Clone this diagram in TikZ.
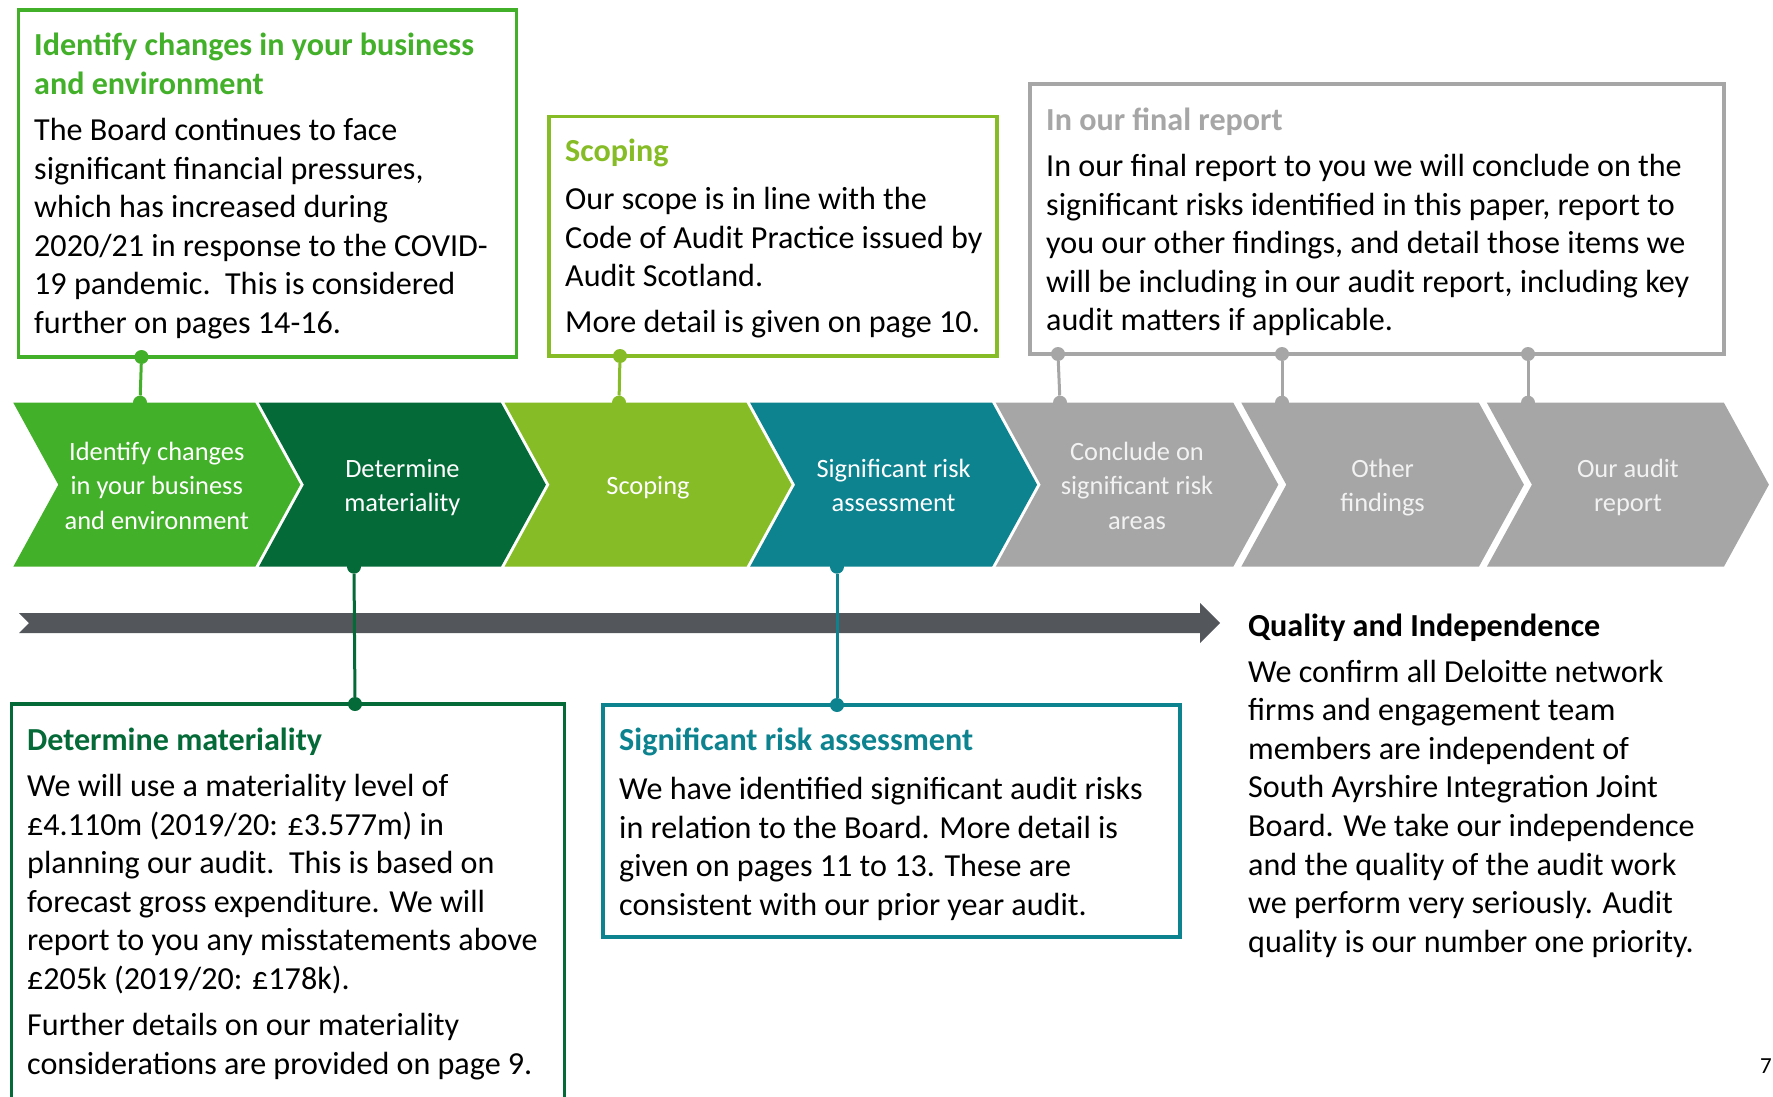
\documentclass[tikz,border=0pt]{standalone}
\usepackage{fontspec}
\setmainfont{Carlito}
\usetikzlibrary{fit}
\definecolor{gA}{HTML}{43B02A}
\definecolor{gB}{HTML}{046A38}
\definecolor{gC}{HTML}{86BC25}
\definecolor{tl}{HTML}{0D8390}
\definecolor{gy}{HTML}{A6A6A6}
\definecolor{ar}{HTML}{53565A}
\definecolor{lt}{HTML}{F2F2F2}
\newcommand{\chevshape}[3]{\fill[#3] (#1,402.7) -- ++(#2,0) -- ++(45,82) -- ++(-45,82) -- ++(-#2,0) -- ++(45,-82) -- cycle;}
\newcommand{\lines}[1]{\parbox[t]{700pt}{\raggedright #1}}
\newcommand{\clines}[1]{\parbox[t]{240pt}{\centering #1}}
\begin{document}
\begin{tikzpicture}[x=1pt,y=-1pt,
  bodytxt/.style={anchor=base west, inner sep=0pt, font=\fontsize{32.1}{38.6}\selectfont, text=black},
  titletxt/.style={anchor=base west, inner sep=0pt, font=\fontsize{32.1}{38.6}\selectfont\bfseries},
  chevtxt/.style={anchor=base, inner sep=0pt, font=\fontsize{26.4}{34.7}\selectfont, text=white},
  joindot/.style={circle, fill, inner sep=0pt, minimum size=14pt},
  conn/.style={line width=3pt},
  infobox/.style={line width=3.2pt, inner sep=0pt, fill=white}]
\useasboundingbox (0,0) rectangle (1773,1097);

% timeline arrow
\fill[ar] (19,613) -- (1200,613) -- (1200,603) -- (1220,623) -- (1200,643) -- (1200,633) -- (19,633) -- (29,623) -- cycle;

% connector dots at chevrons
\node[joindot, fill=gA] (c1) at (140,402.7) {};
\node[joindot, fill=gC] (c3) at (619,402.7) {};
\node[joindot, fill=gy] (c5) at (1060,402.7) {};
\node[joindot, fill=gy] (c6) at (1282,402.7) {};
\node[joindot, fill=gy] (c7) at (1528,402.7) {};
\node[joindot, fill=gB] (c2) at (354,566.7) {};
\node[joindot, fill=tl] (c4) at (837,566.7) {};

% boxes
\node[infobox, draw=gA, fit={(18.5,10) (516.5,357)}] (box1) {};
\node[infobox, draw=gC, fit={(549,116.5) (997,356)}] (box3) {};
\node[infobox, draw=gy, fit={(1030,84) (1724,354)}] (box5) {};
\node[infobox, draw=gB, fit={(11.5,704) (564.5,1130)}] (box2) {};
\node[infobox, draw=tl, fit={(603,705) (1180,937)}] (box4) {};

% dots on boxes
\node[joindot, fill=gA] (b1) at (141.5,357) {};
\node[joindot, fill=gC] (b3) at (620,356) {};
\node[joindot, fill=gy] (b5) at (1058,354) {};
\node[joindot, fill=gy] (b6) at (1282,354) {};
\node[joindot, fill=gy] (b7) at (1528,354) {};
\node[joindot, fill=gB] (b2) at (355,704) {};
\node[joindot, fill=tl] (b4) at (837,705) {};

% connectors
\draw[conn, gA] (b1) -- (c1);
\draw[conn, gC] (b3) -- (c3);
\draw[conn, gy] (b5) -- (c5);
\draw[conn, gy] (b6) -- (c6);
\draw[conn, gy] (b7) -- (c7);
\draw[conn, gB] (c2) -- (b2);
\draw[conn, tl] (c4) -- (b4);

% chevrons (cover half of the chevron dots)
\chevshape{13.3}{242}{gA}
\chevshape{258.9}{242}{gB}
\chevshape{504.5}{242}{gC}
\chevshape{750.1}{242}{tl}
\chevshape{995.7}{237.6}{gy}
\chevshape{1241.3}{237.6}{gy}
\chevshape{1486.9}{237}{gy}

% chevron labels
\node[chevtxt] (t1) at (156.8,460) {\clines{Identify changes\\in your business\\and environment}};
\node[chevtxt] (t2) at (402.4,477) {\clines{Determine\\materiality}};
\node[chevtxt] (t3) at (648,494) {\clines{Scoping}};
\node[chevtxt] (t4) at (893.6,477) {\clines{Significant risk\\assessment}};
\node[chevtxt, text=lt] (t5) at (1137,460) {\clines{Conclude on\\significant risk\\areas}};
\node[chevtxt, text=lt] (t6) at (1382.6,477) {\clines{Other\\findings}};
\node[chevtxt, text=lt] (t7) at (1627.9,477) {\clines{Our audit\\report}};

% box 1 text
\node[titletxt, text=gA] (h1) at (34,55.5) {\lines{Identify changes in your business\\and environment}};
\node[bodytxt] (p1) at (34,140.5) {\lines{The Board continues to face\\significant financial pressures,\\which has increased during\\2020/21 in response to the COVID-\\19 pandemic.\ \ This is considered\\further on pages 14-16.}};

% scoping text
\node[titletxt, text=gC] (h3) at (565,161.5) {\lines{Scoping}};
\node[bodytxt] (p3) at (565,209.5) {\lines{Our scope is in line with the\\Code of Audit Practice issued by\\Audit Scotland.}};
\node[bodytxt] (q3) at (565,332.5) {\lines{More detail is given on page 10.}};

% final report text
\node[titletxt, text=gy] (h5) at (1046,130.5) {\lines{In our final report}};
\node[bodytxt] (p5) at (1046,176.5) {\lines{In our final report to you we will conclude on the\\significant risks identified in this paper, report to\\you our other findings, and detail those items we\\will be including in our audit report, including key\\audit matters if applicable.}};

% determine materiality text
\node[titletxt, text=gB] (h2) at (27,750.5) {\lines{Determine materiality}};
\node[bodytxt] (p2) at (27,796.5) {\lines{We will use a materiality level of\\£4.110m (2019/20: £3.577m) in\\planning our audit.\ \ This is based on\\forecast gross expenditure. We will\\report to you any misstatements above\\£205k (2019/20: £178k).}};
\node[bodytxt] (q2) at (27,1035.5) {\lines{Further details on our materiality\\considerations are provided on page 9.}};

% significant risk text
\node[titletxt, text=tl] (h4) at (619,750.5) {\lines{Significant risk assessment}};
\node[bodytxt] (p4) at (619,799.5) {\lines{We have identified significant audit risks\\in relation to the Board. More detail is\\given on pages 11 to 13. These are\\consistent with our prior year audit.}};

% quality and independence
\node[titletxt, text=black] (hq) at (1248,636) {\lines{Quality and Independence}};
\node[bodytxt] (pq) at (1248,682) {\lines{We confirm all Deloitte network\\firms and engagement team\\members are independent of\\South Ayrshire Integration Joint\\Board. We take our independence\\and the quality of the audit work\\we perform very seriously. Audit\\quality is our number one priority.}};

% page number
\node[anchor=base east, inner sep=0pt, font=\fontsize{23}{28}\selectfont] (pg) at (1772,1073) {7};
\end{tikzpicture}
\end{document}
